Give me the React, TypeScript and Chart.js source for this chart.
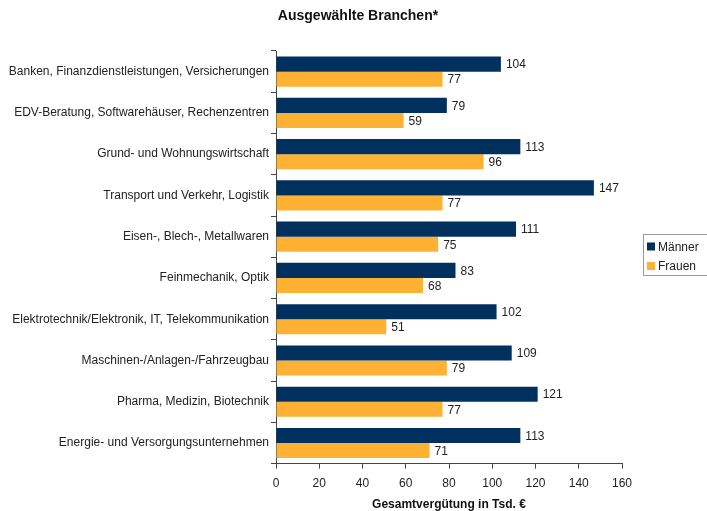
import React, { useEffect, useRef } from "react";
import { Chart, registerables } from "chart.js";

Chart.register(...registerables);

const categories = [
  "Banken, Finanzdienstleistungen, Versicherungen",
  "EDV-Beratung, Softwarehäuser, Rechenzentren",
  "Grund- und Wohnungswirtschaft",
  "Transport und Verkehr, Logistik",
  "Eisen-, Blech-, Metallwaren",
  "Feinmechanik, Optik",
  "Elektrotechnik/Elektronik, IT, Telekommunikation",
  "Maschinen-/Anlagen-/Fahrzeugbau",
  "Pharma, Medizin, Biotechnik",
  "Energie- und Versorgungsunternehmen",
];
const maenner = [104, 79, 113, 147, 111, 83, 102, 109, 121, 113];
const frauen = [77, 59, 96, 77, 75, 68, 51, 79, 77, 71];
const seriesNames = ["Männer", "Frauen"];
const seriesColors = ["#00305E", "#FFB133"];
const xTicks = [0, 20, 40, 60, 80, 100, 120, 140, 160];
const chartTitle = "Ausgewählte Branchen*";
const axisTitle = "Gesamtvergütung in Tsd. €";

const FONT = "'Liberation Sans', Arial, sans-serif";

const extrasPlugin = {
  id: "extras",
  afterDatasetsDraw(chart: any) {
    const ctx = chart.ctx;
    ctx.save();
    ctx.font = `12px ${FONT}`;
    ctx.fillStyle = "#222";
    ctx.textAlign = "left";
    ctx.textBaseline = "middle";
    chart.data.datasets.forEach((ds: any, i: number) => {
      const meta = chart.getDatasetMeta(i);
      meta.data.forEach((bar: any, j: number) => {
        ctx.fillText(String(ds.data[j]), bar.x + 5, bar.y + 1);
      });
    });
    ctx.restore();
  },
  afterDraw(chart: any) {
    const ctx = chart.ctx;
    const area = chart.chartArea;
    ctx.save();
    ctx.fillStyle = "#111";
    ctx.textAlign = "center";
    ctx.textBaseline = "middle";
    ctx.font = `bold 14px ${FONT}`;
    ctx.fillText(chartTitle, 358, 16);
    ctx.font = `bold 12px ${FONT}`;
    ctx.fillText(axisTitle, (area.left + area.right) / 2, 505);
    // legend
    ctx.strokeStyle = "#9a9a9a";
    ctx.lineWidth = 1;
    ctx.strokeRect(643.5, 234.5, 70, 41);
    ctx.font = `12px ${FONT}`;
    ctx.textAlign = "left";
    chart.data.datasets.forEach((ds: any, i: number) => {
      const y = 246.5 + i * 19.5;
      ctx.fillStyle = ds.backgroundColor;
      ctx.fillRect(647, y - 4, 8, 8);
      ctx.fillStyle = "#222";
      ctx.fillText(ds.label, 658, y + 1);
    });
    ctx.restore();
  },
};

export default function App() {
  const ref = useRef<HTMLCanvasElement>(null);
  useEffect(() => {
    if (!ref.current) return;
    const chart = new Chart(ref.current, {
      type: "bar",
      data: {
        labels: categories,
        datasets: [
          { label: seriesNames[0], data: maenner, backgroundColor: seriesColors[0], categoryPercentage: 0.73, barPercentage: 1 },
          { label: seriesNames[1], data: frauen, backgroundColor: seriesColors[1], categoryPercentage: 0.73, barPercentage: 1 },
        ],
      },
      options: {
        indexAxis: "y",
        animation: false,
        responsive: false,
        maintainAspectRatio: false,
        layout: { padding: { top: 51, right: 85, bottom: 12, left: 0 } },
        plugins: {
          legend: { display: false },
          title: { display: false },
          tooltip: { enabled: false },
        },
        scales: {
          x: {
            min: 0,
            max: 160,
            afterBuildTicks: (scale: any) => {
              scale.ticks = xTicks.map((v) => ({ value: v }));
            },
            grid: { drawOnChartArea: false, drawTicks: true, tickLength: 5, color: "#444" },
            border: { display: true, color: "#444" },
            ticks: { font: { family: FONT, size: 12 }, color: "#222", padding: 8, maxRotation: 0 },
          },
          y: {
            afterFit: (scale: any) => {
              scale.width = 276;
            },
            grid: { drawOnChartArea: false, drawTicks: true, tickLength: 5, color: "#444", offset: true },
            border: { display: true, color: "#444" },
            ticks: { font: { family: FONT, size: 12 }, color: "#222", padding: 2, autoSkip: false },
          },
        },
      },
      plugins: [extrasPlugin],
    });
    return () => chart.destroy();
  }, []);
  return (
    <div style={{ position: "fixed", left: 0, top: 0, width: 707, height: 511, background: "#fff" }}>
      <canvas ref={ref} width={707} height={511} style={{ display: "block" }} />
    </div>
  );
}
